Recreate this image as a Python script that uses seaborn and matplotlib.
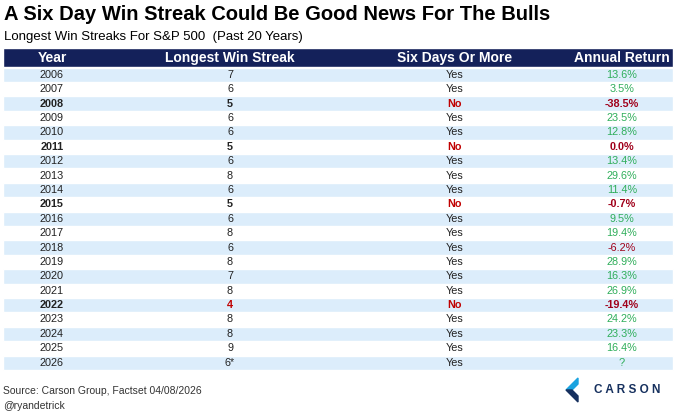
import matplotlib
matplotlib.use("Agg")
import matplotlib.pyplot as plt
import seaborn as sns

# ─── Data ───────────────────────────────────────────────────────────────────
years = ["2006", "2007", "2008", "2009", "2010", "2011", "2012", "2013", "2014", "2015",
         "2016", "2017", "2018", "2019", "2020", "2021", "2022", "2023", "2024", "2025", "2026"]
streaks = ["7", "6", "5", "6", "6", "5", "6", "8", "6", "5",
           "6", "8", "6", "8", "7", "8", "4", "8", "8", "9", "6*"]
six_plus = ["Yes", "Yes", "No", "Yes", "Yes", "No", "Yes", "Yes", "Yes", "No",
            "Yes", "Yes", "Yes", "Yes", "Yes", "Yes", "No", "Yes", "Yes", "Yes", "Yes"]
returns = ["13.6%", "3.5%", "-38.5%", "23.5%", "12.8%", "0.0%", "13.4%", "29.6%", "11.4%", "-0.7%",
           "9.5%", "19.4%", "-6.2%", "28.9%", "16.3%", "26.9%", "-19.4%", "24.2%", "23.3%", "16.4%", "?"]
headers = ["Year", "Longest Win Streak", "Six Days Or More", "Annual Return"]

NAVY = "#14215a"
LIGHT = "#dcedfb"
GREEN = "#2fae5a"
RED = "#c00000"
DARKRED = "#a0001a"

sns.set_theme(style="white")
plt.rcParams["font.family"] = ["Liberation Sans", "DejaVu Sans"]

fig = plt.figure(figsize=(6.8, 4.12), dpi=100)
ax = fig.add_axes([0, 0, 1, 1])
ax.set_xlim(0, 680)
ax.set_ylim(412, 0)
ax.axis("off")

col_x = [52, 230, 455, 622]
top, row_h = 67.5, 14.4

# header band
ax.barh([57.5], [670], left=3, height=19, color=NAVY)
for x, h in zip(col_x, headers):
    ax.text(x, 58, h, ha="center", va="center", color="white", fontsize=10, fontweight="bold",
            fontstretch="condensed")

# row backgrounds
ys = [top + row_h * (i + 0.5) for i in range(len(years))]
ax.barh(ys[::2], [670] * len(ys[::2]), left=3, height=row_h, color=LIGHT)

for i, y in enumerate(ys):
    bold = six_plus[i] == "No"
    fw = "bold" if bold else "normal"
    ax.text(col_x[0], y, years[i], ha="center", va="center", fontsize=7.8, color="#222222", fontweight=fw)
    sc = RED if streaks[i] == "4" else "#222222"
    ax.text(col_x[1], y, streaks[i], ha="center", va="center", fontsize=7.8, color=sc, fontweight=fw)
    ax.text(col_x[2], y, six_plus[i], ha="center", va="center", fontsize=7.8,
            color=RED if bold else "#222222", fontweight=fw)
    rc = DARKRED if (returns[i].startswith("-") or returns[i] == "0.0%") else GREEN
    ax.text(col_x[3], y, returns[i], ha="center", va="center", fontsize=7.8, color=rc, fontweight=fw)

ax.text(4, 14, "A Six Day Win Streak Could Be Good News For The Bulls", ha="left", va="center",
        fontsize=14.5, fontweight="bold", color="black")
ax.text(4, 37, "Longest Win Streaks For S&P 500  (Past 20 Years)", ha="left", va="center",
        fontsize=9.5, color="black")
ax.text(3, 391, "Source: Carson Group, Factset 04/08/2026", ha="left", va="center", fontsize=7.5, color="#333333")
ax.text(3, 406, "@ryandetrick", ha="left", va="center", fontsize=7.5, color="#333333")

# logo
ax.fill([578, 566, 572, 578], [378, 390, 390, 384], color="#1aa3e0")
ax.fill([566, 578, 578, 572], [390, 402, 396, 390], color="#16305e")
ax.text(594, 390, "C A R S O N", ha="left", va="center", fontsize=8.5, fontweight="bold", color="#16305e")

fig.savefig("out.png", dpi=100, facecolor="white")
